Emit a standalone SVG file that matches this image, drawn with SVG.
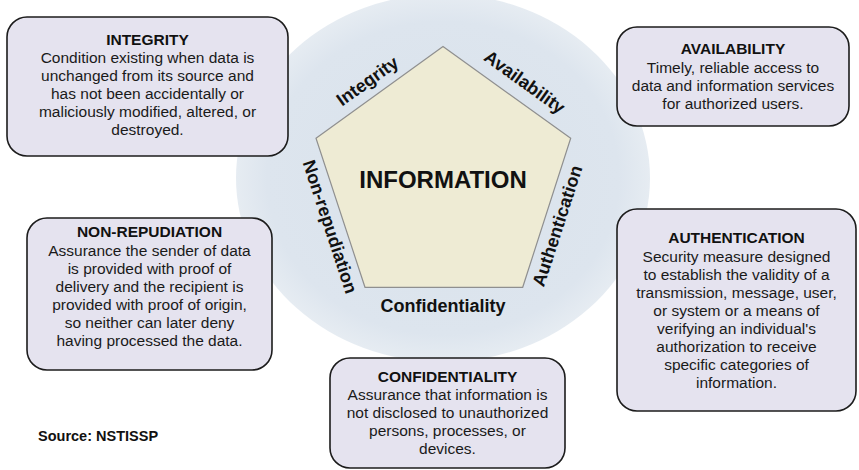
<svg xmlns="http://www.w3.org/2000/svg" width="859" height="470" viewBox="0 0 859 470">
<defs>
<radialGradient id="bg" cx="0.5" cy="0.5" r="0.5">
<stop offset="0" stop-color="#d9e2eb"/>
<stop offset="0.85" stop-color="#dde5ee"/>
<stop offset="1" stop-color="#e6ecf2"/>
</radialGradient>
<style>
.box{fill:#e5e3ef;stroke:#1c1c1c;stroke-width:1.6}
.hd{font-family:"Liberation Sans",Arial,sans-serif;font-size:15.5px;font-weight:bold;fill:#111;text-anchor:middle}
.bd{font-family:"Liberation Sans",Arial,sans-serif;font-size:15.5px;fill:#1a1a1a;text-anchor:middle}
.lbl{font-family:"Liberation Sans",Arial,sans-serif;font-size:18px;font-weight:bold;fill:#111;text-anchor:middle}
</style>
</defs>
<rect width="859" height="470" fill="#ffffff"/>
<g id="background">
<ellipse cx="443" cy="178" rx="207" ry="184" fill="url(#bg)"/>
</g>
<g id="information">
<polygon points="443,46.5 570.7,138.3 522.7,287.3 365,287.3 316,138.3" fill="#eeebd4" stroke="#8f8f8f" stroke-width="1.2"/>
<text x="443" y="188" style="font-family:'Liberation Sans',Arial,sans-serif;font-size:24px;font-weight:bold;fill:#111;text-anchor:middle">INFORMATION</text>
<text class="lbl" transform="translate(368,82) rotate(-35.6)" y="5">Integrity</text>
<text class="lbl" transform="translate(524,83) rotate(35.6)" y="5">Availability</text>
<text class="lbl" transform="translate(557.5,226) rotate(-72.1)" y="6">Authentication</text>
<text class="lbl" transform="translate(329,227) rotate(71.8)" y="5">Non-repudiation</text>
<text class="lbl" x="443" y="311.5">Confidentiality</text>
</g>
<g id="connectors"></g>
<g id="integrity">
<rect class="box" x="7" y="17" width="281" height="139" rx="20"/>
<text class="hd" x="147.5" y="45">INTEGRITY</text>
<text class="bd" x="147.5" y="63">Condition existing when data is</text>
<text class="bd" x="147.5" y="81">unchanged from its source and</text>
<text class="bd" x="147.5" y="99">has not been accidentally or</text>
<text class="bd" x="147.5" y="117">maliciously modified, altered, or</text>
<text class="bd" x="147.5" y="135">destroyed.</text>
</g>
<g id="availability">
<rect class="box" x="617" y="27" width="232" height="99" rx="20"/>
<text class="hd" x="733" y="54">AVAILABILITY</text>
<text class="bd" x="733" y="72.5">Timely, reliable access to</text>
<text class="bd" x="733" y="90.5">data and information services</text>
<text class="bd" x="733" y="108.5">for authorized users.</text>
</g>
<g id="non-repudiation">
<rect class="box" x="27" y="218" width="245" height="152" rx="20"/>
<text class="hd" x="149.5" y="237">NON-REPUDIATION</text>
<text class="bd" x="149.5" y="256">Assurance the sender of data</text>
<text class="bd" x="149.5" y="274">is provided with proof of</text>
<text class="bd" x="149.5" y="292">delivery and the recipient is</text>
<text class="bd" x="149.5" y="310">provided with proof of origin,</text>
<text class="bd" x="149.5" y="328">so neither can later deny</text>
<text class="bd" x="149.5" y="346">having processed the data.</text>
</g>
<g id="authentication">
<rect class="box" x="617" y="209" width="239" height="202" rx="20"/>
<text class="hd" x="736.5" y="243">AUTHENTICATION</text>
<text class="bd" x="736.5" y="261.5">Security measure designed</text>
<text class="bd" x="736.5" y="279.5">to establish the validity of a</text>
<text class="bd" x="736.5" y="297.5">transmission, message, user,</text>
<text class="bd" x="736.5" y="315.5">or system or a means of</text>
<text class="bd" x="736.5" y="333.5">verifying an individual's</text>
<text class="bd" x="736.5" y="351.5">authorization to receive</text>
<text class="bd" x="736.5" y="369.5">specific categories of</text>
<text class="bd" x="736.5" y="387.5">information.</text>
</g>
<g id="confidentiality">
<rect class="box" x="330" y="358" width="235" height="110" rx="20"/>
<text class="hd" x="447.5" y="382">CONFIDENTIALITY</text>
<text class="bd" x="447.5" y="400">Assurance that information is</text>
<text class="bd" x="447.5" y="418">not disclosed to unauthorized</text>
<text class="bd" x="447.5" y="436">persons, processes, or</text>
<text class="bd" x="447.5" y="454">devices.</text>
</g>
<g id="source">
<text x="38" y="441" style="font-family:'Liberation Sans',Arial,sans-serif;font-size:14.5px;font-weight:bold;fill:#111">Source: NSTISSP</text>
</g>
</svg>
